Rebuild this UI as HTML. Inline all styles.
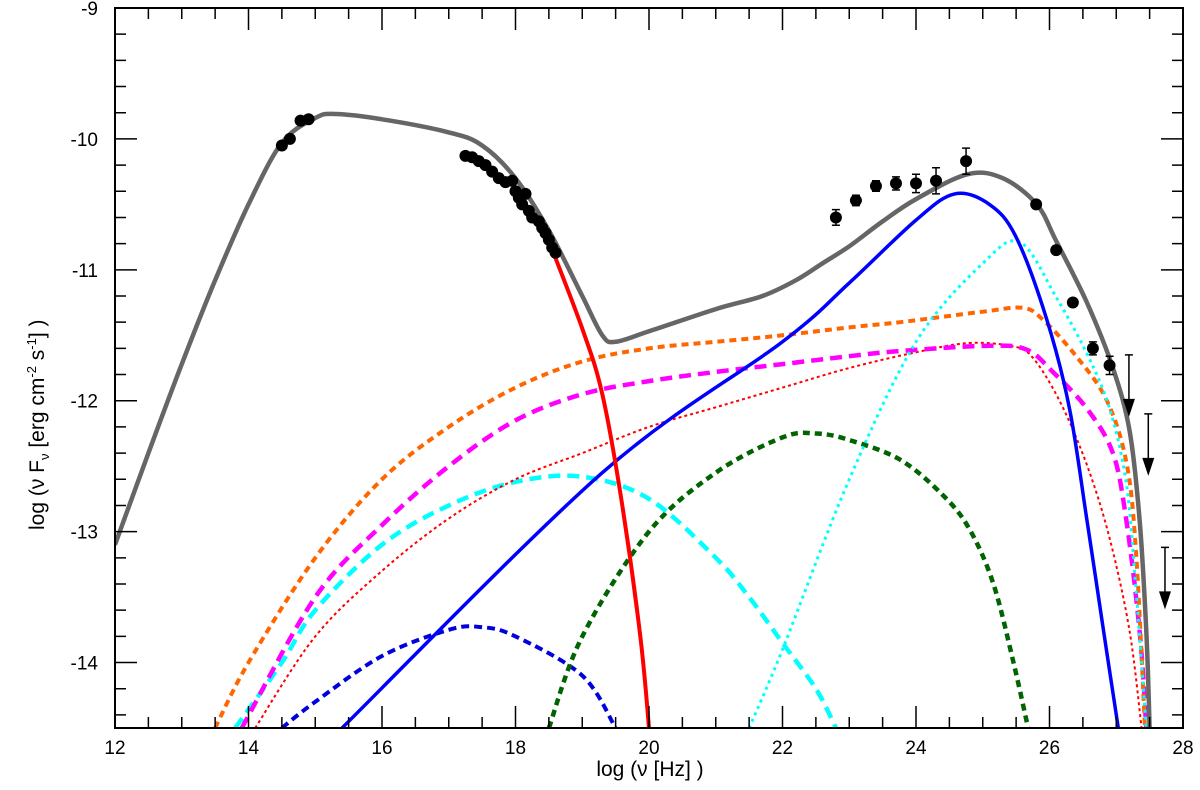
<!DOCTYPE html>
<html><head><meta charset="utf-8"><style>
body{margin:0;background:#fff;}
svg{display:block;font-family:"Liberation Sans",sans-serif;}
</style></head><body>
<svg id="chart" width="1200" height="790"></svg>
<script>
const xTicks=[12,14,16,18,20,22,24,26,28];
const yTicks=[-9,-10,-11,-12,-13,-14];
const totalModel=[[12,-13.1],[12.5,-12.4],[13,-11.72],[13.5,-11.08],[14,-10.5],[14.5,-10.03],[15,-9.84],[15.3,-9.81],[16,-9.85],[17,-9.95],[17.5,-10.05],[18,-10.3],[18.5,-10.7],[19,-11.2],[19.3,-11.5],[19.5,-11.55],[20,-11.47],[21,-11.3],[21.7,-11.2],[22.2,-11.08],[22.6,-10.95],[23,-10.82],[23.5,-10.63],[24,-10.46],[24.77,-10.27],[25.3,-10.3],[25.81,-10.5],[26.1,-10.78],[26.56,-11.25],[26.95,-11.75],[27.2,-12.23],[27.35,-12.91],[27.45,-13.76],[27.5,-14.5]];
const synchrotron=[[18.5,-10.78],[19,-11.45],[19.3,-11.95],[19.6,-12.8],[19.87,-13.8],[20,-14.5]];
const sscSolid=[[15.4,-14.5],[19.3,-12.55],[22,-11.55],[23,-11.1],[24,-10.62],[24.58,-10.42],[25.1,-10.5],[25.5,-10.75],[25.96,-11.38],[26.3,-12.06],[26.56,-12.91],[26.81,-13.76],[27.03,-14.5]];
const cyanDotted=[[21.5,-14.5],[22,-13.9],[23,-12.6],[24,-11.55],[25,-10.95],[25.56,-10.79],[26.1,-11.21],[26.56,-11.64],[26.9,-12.06],[27.15,-12.63],[27.3,-13.47],[27.45,-14.5]];
const orangeDashed=[[13.5,-14.5],[14,-14],[15,-13.2],[16,-12.6],[17,-12.2],[18,-11.9],[19,-11.7],[20,-11.6],[21,-11.55],[22,-11.5],[23,-11.44],[23.76,-11.4],[25,-11.32],[25.6,-11.29],[25.9,-11.38],[26.4,-11.66],[26.86,-12.0],[27.16,-12.49],[27.3,-13.19],[27.43,-14.5]];
const magentaDashed=[[13.9,-14.5],[15,-13.5],[16,-12.95],[17,-12.5],[18,-12.15],[19,-11.95],[20,-11.85],[21,-11.78],[22,-11.72],[23,-11.66],[23.76,-11.62],[25.1,-11.58],[25.66,-11.61],[26.05,-11.78],[26.56,-12.06],[26.95,-12.4],[27.15,-12.91],[27.35,-13.76],[27.45,-14.5]];
const redDotted=[[14.1,-14.5],[15,-13.8],[16,-13.3],[17,-12.9],[18,-12.6],[19,-12.4],[20,-12.2],[21,-12.05],[22,-11.9],[23,-11.75],[24,-11.63],[24.77,-11.56],[25.4,-11.58],[25.73,-11.66],[26.15,-12.0],[26.56,-12.49],[26.9,-13.05],[27.2,-13.76],[27.38,-14.5]];
const cyanDashed=[[13.8,-14.5],[14.5,-14],[15,-13.6],[16,-13.1],[17,-12.8],[18,-12.62],[19,-12.58],[20,-12.75],[21,-13.2],[21.5,-13.5],[22,-13.85],[22.5,-14.2],[22.8,-14.5]];
const greenDashed=[[18.5,-14.5],[19,-13.8],[20,-13],[21,-12.55],[22,-12.28],[22.5,-12.25],[23,-12.3],[23.76,-12.45],[24.4,-12.72],[24.8,-12.98],[25.16,-13.4],[25.46,-14.0],[25.68,-14.5]];
const blueDashed=[[14.5,-14.5],[15,-14.3],[16,-13.95],[17,-13.75],[17.5,-13.73],[18,-13.8],[19,-14.1],[19.5,-14.5]];
const dataX=[14.5,14.62,14.78,14.9,17.25,17.35,17.45,17.55,17.65,17.75,17.85,17.95,18.0,18.05,18.1,18.15,18.2,18.25,18.35,18.4,18.45,18.5,18.55,18.6,22.8,23.1,23.4,23.7,24,24.3,24.75,25.8,26.1,26.35,26.65,26.9];
const dataY=[-10.05,-10.0,-9.86,-9.85,-10.13,-10.14,-10.17,-10.2,-10.25,-10.3,-10.33,-10.32,-10.4,-10.45,-10.5,-10.42,-10.55,-10.6,-10.63,-10.68,-10.72,-10.77,-10.83,-10.87,-10.6,-10.47,-10.36,-10.34,-10.34,-10.32,-10.17,-10.5,-10.85,-11.25,-11.6,-11.73];
const dataErr=[0,0,0,0,0,0,0,0,0,0,0,0,0,0,0,0,0,0,0,0,0,0,0,0,0.06,0.04,0.04,0.05,0.07,0.1,0.1,0,0,0,0.05,0.07];
const ulX=[27.19,27.48,27.73];
const ulY=[-11.65,-12.1,-13.12];

const L=115,R=1183,T=8,B=728;
const sx=v=>L+(v-12)/16*(R-L);
const sy=v=>T+(-9-v)/5.5*(B-T);
const svg=document.getElementById('chart');
const NS='http://www.w3.org/2000/svg';
function mk(tag,attrs,parent){const e=document.createElementNS(NS,tag);for(const k in attrs)e.setAttribute(k,attrs[k]);(parent||svg).appendChild(e);return e;}
const defs=mk('defs',{});const cp=mk('clipPath',{id:'c'},defs);mk('rect',{x:L,y:T,width:R-L,height:B-T},cp);
const plot=mk('g',{'clip-path':'url(#c)'});

function smoothPath(arr){
  const p=arr.map(q=>[sx(q[0]),sy(q[1])]);
  let d='M'+p[0][0].toFixed(1)+','+p[0][1].toFixed(1);
  for(let i=0;i<p.length-1;i++){
    const p0=p[i-1]||p[i],p1=p[i],p2=p[i+1],p3=p[i+2]||p[i+1];
    const c1x=p1[0]+(p2[0]-p0[0])/6,c1y=p1[1]+(p2[1]-p0[1])/6;
    const c2x=p2[0]-(p3[0]-p1[0])/6,c2y=p2[1]-(p3[1]-p1[1])/6;
    d+=`C${c1x.toFixed(1)},${c1y.toFixed(1)} ${c2x.toFixed(1)},${c2y.toFixed(1)} ${p2[0].toFixed(1)},${p2[1].toFixed(1)}`;
  }
  return d;
}
function curve(arr,color,w,dash,name){
  const p=mk('path',{d:smoothPath(arr),fill:'none',stroke:color,'stroke-width':w,'stroke-dasharray':dash||'none','stroke-linejoin':'round'},plot);
  
  
}
curve(blueDashed,'#0000dd',4,'8,5','blue-dashed-component');
curve(greenDashed,'#006400',4.5,'7,5','green-dashed-component');
curve(cyanDashed,'#00ffff',4.5,'12,7','cyan-dashed-component');
curve(redDotted,'#ff0000',2,'3,3','red-dotted-component');
curve(magentaDashed,'#ff00ff',4.5,'12,7','magenta-dashed-component');
curve(orangeDashed,'#ff6600',4,'7,5','orange-dashed-component');
curve(cyanDotted,'#00ffff',3,'3,4','cyan-dotted-component');
curve(sscSolid,'#0000ff',3.5,null,'blue-solid-component');
curve(synchrotron,'#ff0000',4,null,'synchrotron-curve');
curve(totalModel,'#666666',4.5,null,'total-model-curve');

for(let i=0;i<dataX.length;i++){
  const x=sx(dataX[i]),y=sy(dataY[i]);
  if(dataErr[i]>0){
    const e=mk('path',{d:`M${x},${sy(dataY[i]+dataErr[i])}V${sy(dataY[i]-dataErr[i])}M${x-4},${sy(dataY[i]+dataErr[i])}h8M${x-4},${sy(dataY[i]-dataErr[i])}h8`,stroke:'#000','stroke-width':1.5,fill:'none'},plot);
    
    
  }
  const c=mk('circle',{cx:x,cy:y,r:6,fill:'#000'},plot);
  
  
}
for(let i=0;i<ulX.length;i++){
  const x=sx(ulX[i]),y0=sy(ulY[i]),y1=y0+62;
  const g=mk('g',{},plot);
  
  
  mk('path',{d:`M${x-4},${y0}h8M${x},${y0}V${y1-16}`,stroke:'#000','stroke-width':1.5,fill:'none'},g);
  mk('path',{d:`M${x-6},${y1-18}L${x+6},${y1-18}L${x},${y1}Z`,fill:'#000'},g);
}

const fr=mk('rect',{x:L,y:T,width:R-L,height:B-T,fill:'none',stroke:'#000','stroke-width':2});


let td='';
for(let v=12;v<=28.001;v+=0.5){const x=sx(v);const len=(Math.abs(v-Math.round(v/2)*2)<1e-6)?22:11;td+=`M${x},${B}v${-len}M${x},${T}v${len}`;}
for(let v=-9;v>=-14.5;v-=0.2){const y=sy(v);const len=(Math.abs(v-Math.round(v))<1e-6)?22:11;td+=`M${L},${y}h${len}M${R},${y}h${-len}`;}
const tk=mk('path',{d:td,stroke:'#000','stroke-width':1.5,fill:'none'});


xTicks.forEach(v=>{const t=mk('text',{x:sx(v),y:754,'text-anchor':'middle','font-size':19});t.textContent=v;

});
yTicks.forEach(v=>{const t=mk('text',{x:98,y:sy(v)+7,'text-anchor':'end','font-size':19});t.textContent=v;

});
</script>
<div style="position:absolute;left:0;top:758px;width:1200px;text-align:center;font:21px 'Liberation Sans',sans-serif;padding-left:100px;box-sizing:border-box;">log (ν [Hz] )</div>
<div style="position:absolute;left:24px;top:270px;transform-origin:0 0;transform:translate(0,260px) rotate(-90deg);font:21px 'Liberation Sans',sans-serif;white-space:nowrap;">log (ν F<sub style="font-size:13px">ν</sub> [erg cm<sup style="font-size:13px">-2</sup> s<sup style="font-size:13px">-1</sup>] )</div>
</body></html>
